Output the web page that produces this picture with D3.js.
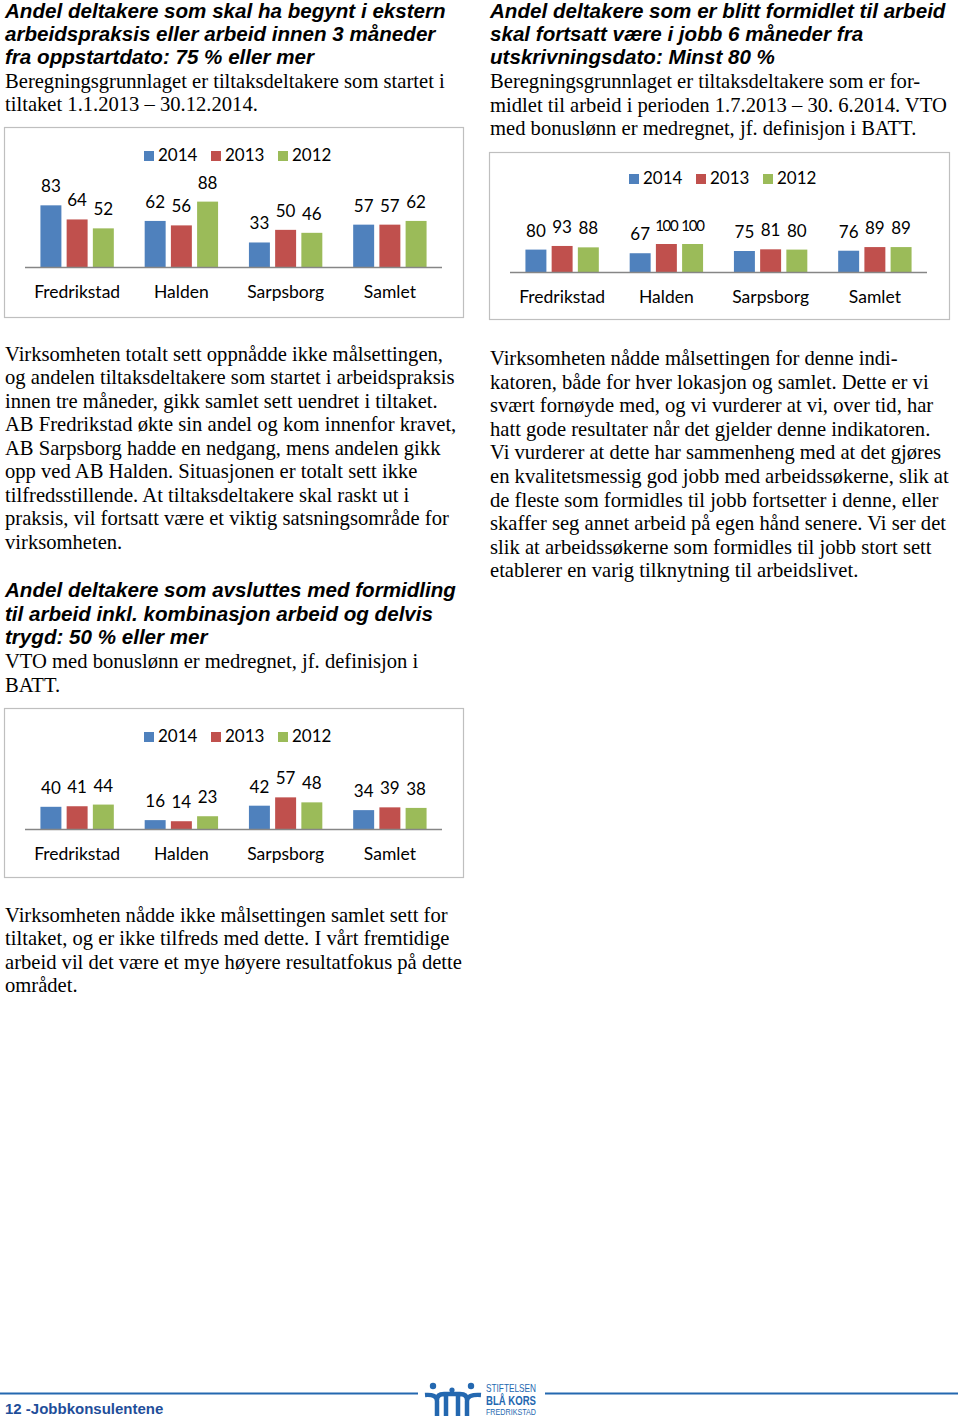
<!DOCTYPE html>
<html><head><meta charset="utf-8">
<script src="https://cdn.jsdelivr.net/npm/d3@7/dist/d3.min.js"></script>
<style>
html,body{margin:0;padding:0;background:#fff;}
svg{display:block;}
.serif{font-family:"Liberation Serif","Times New Roman",serif;font-size:20.6px;fill:#000;}
.head{font-family:"Liberation Sans",Arial,sans-serif;font-size:20.6px;font-weight:bold;font-style:italic;fill:#000;}
.cl{font-family:Lato,"Open Sans",sans-serif;fill:#000;}
</style>
</head><body>
<svg id="page" width="960" height="1420"></svg>
<script>
// ---------- data ----------
const categories = ["Fredrikstad", "Halden", "Sarpsborg", "Samlet"];
const seriesNames = ["2014", "2013", "2012"];
const seriesColors = ["#4F81BD", "#C0504D", "#9BBB59"];

// Chart 1: begynt i arbeidspraksis/arbeid innen 3 måneder (%)
const startWithin3m_2014 = [83, 62, 33, 57];
const startWithin3m_2013 = [64, 56, 50, 57];
const startWithin3m_2012 = [52, 88, 46, 62];

// Chart 2: fortsatt i jobb 6 måneder etter utskrivning (%)
const stillInJob6m_2014 = [80, 67, 75, 76];
const stillInJob6m_2013 = [93, 100, 81, 89];
const stillInJob6m_2012 = [88, 100, 80, 89];

// Chart 3: avsluttes med formidling til arbeid (%)
const placedInWork_2014 = [40, 16, 42, 34];
const placedInWork_2013 = [41, 14, 57, 39];
const placedInWork_2012 = [44, 23, 48, 38];

// ---------- text ----------
const head1 = ["Andel deltakere som skal ha begynt i ekstern","arbeidspraksis eller arbeid innen 3 måneder","fra oppstartdato: 75 % eller mer"];
const body1 = ["Beregningsgrunnlaget er tiltaksdeltakere som startet i","tiltaket 1.1.2013 – 30.12.2014."];
const head2 = ["Andel deltakere som er blitt formidlet til arbeid","skal fortsatt være i jobb 6 måneder fra","utskrivningsdato: Minst 80 %"];
const body2 = ["Beregningsgrunnlaget er tiltaksdeltakere som er for-","midlet til arbeid i perioden 1.7.2013 – 30. 6.2014. VTO","med bonuslønn er medregnet, jf. definisjon i BATT."];
const para1 = ["Virksomheten totalt sett oppnådde ikke målsettingen,","og andelen tiltaksdeltakere som startet i arbeidspraksis","innen tre måneder, gikk samlet sett uendret i tiltaket.","AB Fredrikstad økte sin andel og kom innenfor kravet,","AB Sarpsborg hadde en nedgang, mens andelen gikk","opp ved AB Halden. Situasjonen er totalt sett ikke","tilfredsstillende. At tiltaksdeltakere skal raskt ut i","praksis, vil fortsatt være et viktig satsningsområde for","virksomheten."];
const head3 = ["Andel deltakere som avsluttes med formidling","til arbeid inkl. kombinasjon arbeid og delvis","trygd: 50 % eller mer"];
const body3 = ["VTO med bonuslønn er medregnet, jf. definisjon i","BATT."];
const para2 = ["Virksomheten nådde målsettingen for denne indi-","katoren, både for hver lokasjon og samlet. Dette er vi","svært fornøyde med, og vi vurderer at vi, over tid, har","hatt gode resultater når det gjelder denne indikatoren.","Vi vurderer at dette har sammenheng med at det gjøres","en kvalitetsmessig god jobb med arbeidssøkerne, slik at","de fleste som formidles til jobb fortsetter i denne, eller","skaffer seg annet arbeid på egen hånd senere. Vi ser det","slik at arbeidssøkerne som formidles til jobb stort sett","etablerer en varig tilknytning til arbeidslivet."];
const para3 = ["Virksomheten nådde ikke målsettingen samlet sett for","tiltaket, og er ikke tilfreds med dette. I vårt fremtidige","arbeid vil det være et mye høyere resultatfokus på dette","området."];

const svg = d3.select("#page");
svg.append("rect").attr("width",960).attr("height",1420).attr("fill","#fff");

function lines(arr, x, y0, dy, cls){
  const g = svg.append("g");
  arr.forEach((t,i)=>g.append("text").attr("class",cls).attr("x",x).attr("y",y0+i*dy).text(t));
}
lines(head1, 5, 18.3, 22.6, "head");
lines(body1, 5, 88.3, 23, "serif");
lines(head2, 490, 18.3, 22.6, "head");
lines(body2, 490, 88.3, 23.4, "serif");
lines(para1, 5, 360.7, 23.5, "serif");
lines(head3, 5, 597.3, 23.3, "head");
lines(body3, 5, 668.3, 23.4, "serif");
lines(para2, 490, 365, 23.6, "serif");
lines(para3, 5, 921.7, 23.5, "serif");

// ---------- charts ----------
function drawChart(cfg){
  const g = svg.append("g").attr("transform",`translate(${cfg.x},${cfg.y})`);
  g.append("rect").attr("x",0.5).attr("y",0.5).attr("width",cfg.w).attr("height",cfg.h)
    .attr("fill","#fff").attr("stroke","#BFBFBF").attr("stroke-width",1.2);
  const x0 = d3.scaleBand().domain(categories).range([cfg.axisL, cfg.axisR]);
  const x1 = d3.scaleBand().domain(seriesNames).range([x0.bandwidth()*0.148, x0.bandwidth()*0.852]).paddingInner(0.2);
  const y = d3.scaleLinear().domain([0,100]).range([cfg.base, cfg.base - cfg.full]);
  const vals = cfg.series;
  categories.forEach((c,ci)=>{
    seriesNames.forEach((s,si)=>{
      const v = vals[si][ci];
      const bx = x0(c)+x1(s);
      g.append("rect").attr("x",bx).attr("y",y(v)).attr("width",x1.bandwidth())
        .attr("height",y(0)-y(v)).attr("fill",seriesColors[si]);
      const t = g.append("text").attr("class","cl").attr("x",bx+x1.bandwidth()/2).attr("y",y(v)-13)
        .attr("text-anchor","middle").attr("font-size", v>=100?15:17).text(v);
      if (v>=100) t.attr("letter-spacing",-1.2);
    });
  });
  g.append("line").attr("x1",cfg.axisL).attr("x2",cfg.axisR).attr("y1",cfg.base+0.5).attr("y2",cfg.base+0.5)
    .attr("stroke","#868686").attr("stroke-width",1.3);
  const xAxis = d3.axisBottom(x0).tickSize(0).tickPadding(0);
  const ax = g.append("g").attr("transform",`translate(0,${cfg.base})`).call(xAxis);
  ax.select(".domain").remove();
  ax.selectAll("text").attr("class","cl").attr("font-size",17.5).attr("dy",null).attr("y",30.5).attr("fill","#000");
  // legend
  const lg = g.append("g").attr("transform",`translate(140,${cfg.legY})`);
  seriesNames.forEach((s,i)=>{
    lg.append("rect").attr("x",i*67).attr("y",0).attr("width",10).attr("height",10).attr("fill",seriesColors[i]);
    lg.append("text").attr("class","cl").attr("x",i*67+14).attr("y",10).attr("font-size",17).text(s);
  });
}
drawChart({x:4,y:127,w:459,h:190,axisL:21,axisR:438,base:140,full:74.3,legY:24,
  series:[startWithin3m_2014,startWithin3m_2013,startWithin3m_2012]});
drawChart({x:489,y:152,w:460,h:167,axisL:21,axisR:438,base:120,full:28,legY:22,
  series:[stillInJob6m_2014,stillInJob6m_2013,stillInJob6m_2012]});
drawChart({x:4,y:708,w:459,h:169,axisL:21,axisR:438,base:121,full:55.5,legY:24,
  series:[placedInWork_2014,placedInWork_2013,placedInWork_2012]});

// ---------- footer ----------
const blue = "#2468B0";
svg.append("line").attr("x1",0).attr("x2",418).attr("y1",1393.5).attr("y2",1393.5).attr("stroke",blue).attr("stroke-width",2.2);
svg.append("line").attr("x1",545).attr("x2",958).attr("y1",1393.5).attr("y2",1393.5).attr("stroke",blue).attr("stroke-width",2.2);
svg.append("text").attr("x",5).attr("y",1414).attr("font-family","Liberation Sans, Arial, sans-serif")
  .attr("font-weight","bold").attr("font-size",15).attr("fill","#1F4E9A").text("12 -Jobbkonsulentene");
const logo = svg.append("g").attr("fill",blue).attr("stroke",blue);
[[433,1386],[452,1390],[471,1386]].forEach((p,i)=>logo.append("circle").attr("cx",p[0]).attr("cy",p[1]).attr("r",i===1?2.6:3.2).attr("stroke","none"));
logo.append("path").attr("fill","none").attr("stroke-width",4.5).attr("stroke-linecap","butt")
  .attr("d","M425,1395 Q437,1394 437,1401 L437,1416 M437,1400 Q437,1394 444,1394 L460,1394 Q467,1394 467,1400 M446,1394 L446,1416 M458,1394 L458,1416 M467,1401 L467,1416 M467,1401 Q467,1394 481,1395");
const ft = svg.append("g").attr("font-family","Liberation Sans, Arial, sans-serif").attr("fill",blue);
ft.append("text").attr("x",486).attr("y",1392).attr("font-size",10.5).attr("textLength",50).attr("lengthAdjust","spacingAndGlyphs").text("STIFTELSEN");
ft.append("text").attr("x",486).attr("y",1405).attr("font-size",13.5).attr("font-weight","bold").attr("textLength",50).attr("lengthAdjust","spacingAndGlyphs").text("BLÅ KORS");
ft.append("text").attr("x",486).attr("y",1415).attr("font-size",9.5).attr("textLength",50).attr("lengthAdjust","spacingAndGlyphs").text("FREDRIKSTAD");
</script>
</body></html>
